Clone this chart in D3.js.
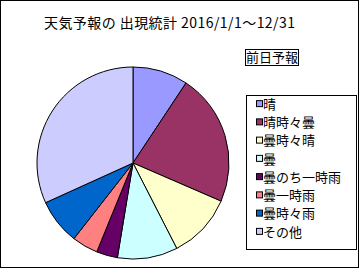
<!DOCTYPE html>
<html>
<head>
<meta charset="utf-8">
<script src="https://cdn.jsdelivr.net/npm/d3@7"></script>
<style>
  body { margin: 0; background: #fff; }
  svg text { font-family: "Noto Sans CJK JP", sans-serif; fill: #000; }
</style>
</head>
<body>
<div class="main"></div>
<script>
// days per forecast category, 2016
const categories = ["晴", "晴時々曇", "曇時々晴", "曇", "曇のち一時雨", "曇一時雨", "曇時々雨", "その他"];
const days = [34, 81, 40, 37, 13, 16, 28, 116];
const colors = ["#9999FF", "#993366", "#FFFFCC", "#CCFFFF", "#660066", "#FF8080", "#0066CC", "#CCCCFF"];
const title = "天気予報の 出現統計 2016/1/1～12/31";
const subTitle = "前日予報";

const width = 360, height = 269;

let svg = d3.select("div.main").append("svg")
  .attr("width", width)
  .attr("height", height);

// chart frame
svg.append("rect")
  .attr("x", 0.5).attr("y", 0.5)
  .attr("width", 358).attr("height", 267)
  .attr("fill", "#fff")
  .attr("stroke", "#000");

svg.append("text")
  .attr("x", 44).attr("y", 28)
  .attr("font-size", 14)
  .attr("textLength", 251)
  .text(title);

// pie
let data = categories.map(function(c, i){ return {name: c, value: days[i], color: colors[i]}; });

let pie = d3.pie()
  .sort(null)
  .value(function(d){ return d.value; });

let arc = d3.arc()
  .innerRadius(0)
  .outerRadius(96);

let g = svg.append("g")
  .attr("transform", "translate(133,163)");

g.selectAll("path")
  .data(pie(data))
  .enter().append("path")
  .attr("d", arc)
  .attr("fill", function(d){ return d.data.color; })
  .attr("stroke", "#000")
  .attr("stroke-width", 1);

// sub title box
svg.append("rect")
  .attr("x", 245.5).attr("y", 49.5)
  .attr("width", 53).attr("height", 16)
  .attr("fill", "#fff")
  .attr("stroke", "#000");

svg.append("text")
  .attr("x", 246).attr("y", 62)
  .attr("font-size", 13)
  .text(subTitle);

// legend
svg.append("rect")
  .attr("x", 246.5).attr("y", 95.5)
  .attr("width", 110).attr("height", 154)
  .attr("fill", "#fff")
  .attr("stroke", "#000");

let y = d3.scaleBand()
  .domain(categories)
  .range([95, 241]);

let legend = svg.selectAll("g.legend")
  .data(data)
  .enter().append("g")
  .attr("class", "legend")
  .attr("transform", function(d){ return "translate(0," + (y(d.name) + y.bandwidth() / 2) + ")"; });

legend.append("rect")
  .attr("x", 256.5).attr("y", -3.5)
  .attr("width", 6).attr("height", 6)
  .attr("fill", function(d){ return d.color; })
  .attr("stroke", "#000");

legend.append("text")
  .attr("x", 263).attr("y", 0)
  .attr("dy", "0.36em")
  .attr("font-size", 13)
  .text(function(d){ return d.name; });
</script>
</body>
</html>
